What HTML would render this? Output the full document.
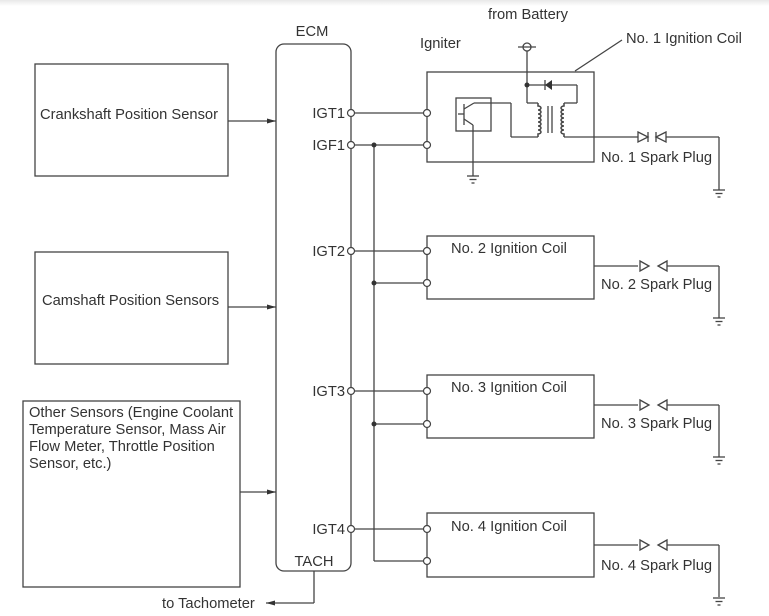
<!DOCTYPE html>
<html><head><meta charset="utf-8"><style>
html,body{margin:0;padding:0;background:#fff;}
svg{display:block;}
text{font-family:"Liberation Sans",Arial,sans-serif;font-size:14.7px;fill:#333;}
</style></head><body>
<svg width="769" height="616" viewBox="0 0 769 616" xmlns="http://www.w3.org/2000/svg">
<defs>
<linearGradient id="g" x1="0" y1="0" x2="0" y2="1"><stop offset="0" stop-color="#e8e8e8"/><stop offset="1" stop-color="#fff"/></linearGradient>
<marker id="a" markerWidth="10" markerHeight="8" refX="9" refY="4" orient="auto" markerUnits="userSpaceOnUse"><path d="M0,1.5 L9,4 L0,6.5z" fill="#333"/></marker>
</defs>
<rect x="0" y="0" width="769" height="6" fill="url(#g)"/>
<g stroke="#444" stroke-width="1.3" fill="none">
<rect x="35" y="64" width="193" height="112"/>
<rect x="35" y="252" width="193" height="112"/>
<rect x="23" y="401" width="217" height="186"/>
<line x1="228" y1="121" x2="276" y2="121" marker-end="url(#a)"/>
<line x1="228" y1="307" x2="276" y2="307" marker-end="url(#a)"/>
<line x1="240" y1="492" x2="276" y2="492" marker-end="url(#a)"/>
<rect x="276" y="44" width="75" height="527" rx="8"/>
<line x1="314" y1="571" x2="314" y2="603"/>
<line x1="314" y1="603" x2="266" y2="603" marker-end="url(#a)"/>
<line x1="374" y1="145" x2="374" y2="561"/>
<line x1="355" y1="113" x2="423" y2="113"/>
<line x1="355" y1="145" x2="423" y2="145"/>
<line x1="355" y1="251" x2="423" y2="251"/>
<line x1="374" y1="283" x2="423" y2="283"/>
<line x1="355" y1="391" x2="423" y2="391"/>
<line x1="374" y1="424" x2="423" y2="424"/>
<line x1="355" y1="529" x2="423" y2="529"/>
<line x1="374" y1="561" x2="423" y2="561"/>
<rect x="427" y="72" width="167" height="90"/>
<rect x="427" y="236" width="167" height="63"/>
<rect x="427" y="375" width="167" height="63"/>
<rect x="427" y="513" width="167" height="64"/>
<rect x="456" y="98" width="35" height="33"/>
<line x1="464" y1="104" x2="464" y2="125"/>
<line x1="458" y1="114" x2="464" y2="114"/>
<line x1="464" y1="109" x2="474" y2="103"/>
<line x1="474" y1="103" x2="511" y2="103"/>
<line x1="464" y1="119" x2="473" y2="125"/>
<line x1="473" y1="125" x2="473" y2="176"/>
<line x1="511" y1="103" x2="511" y2="137"/>
<line x1="511" y1="137" x2="538" y2="137"/>
<line x1="527" y1="51" x2="527" y2="103"/>
<line x1="527" y1="85" x2="577" y2="85"/>
<line x1="577" y1="85" x2="577" y2="103"/>
<line x1="577" y1="103" x2="564" y2="103"/>
<line x1="527" y1="103" x2="538" y2="103"/>
<path d="M538,103 v3 a3,2 0 1,1 0,4 a3,2 0 1,1 0,4 a3,2 0 1,1 0,4 a3,2 0 1,1 0,4 a3,2 0 1,1 0,4 a3,2 0 1,1 0,4 a3,2 0 1,1 0,4 v3" stroke-width="1.5"/>
<path d="M564,103 v3 a3,2 0 1,0 0,4 a3,2 0 1,0 0,4 a3,2 0 1,0 0,4 a3,2 0 1,0 0,4 a3,2 0 1,0 0,4 a3,2 0 1,0 0,4 a3,2 0 1,0 0,4 v3" stroke-width="1.5"/>
<line x1="548" y1="106" x2="548" y2="133"/>
<line x1="552" y1="106" x2="552" y2="133"/>
<line x1="564" y1="137" x2="638" y2="137"/>
<line x1="545" y1="80" x2="545" y2="90"/>
<circle cx="527" cy="47" r="4"/>
<line x1="518" y1="47" x2="536" y2="47"/>
<line x1="575" y1="71" x2="622" y2="40"/>
<path d="M638,132 L648,137 L638,142z"/>
<path d="M648,132 L648,142"/>
<path d="M666,132 L656,137 L666,142z"/>
<path d="M656,132 L656,142"/>
<line x1="666" y1="137" x2="719" y2="137"/>
<line x1="719" y1="137" x2="719" y2="190"/>
<g id="sp">
<line x1="594" y1="266" x2="638" y2="266"/>
<path d="M640,261 L649,266 L640,271z"/>
<path d="M667,261 L658,266 L667,271z"/>
<line x1="667" y1="266" x2="719" y2="266"/>
<line x1="719" y1="266" x2="719" y2="318"/>
</g>
<use href="#sp" y="139"/>
<use href="#sp" y="279"/>
<g id="gnd"><line x1="713" y1="190" x2="725" y2="190"/><line x1="715.5" y1="193.5" x2="722.5" y2="193.5"/><line x1="717.5" y1="197" x2="720.5" y2="197"/></g>
<use href="#gnd" y="128"/>
<use href="#gnd" y="267"/>
<use href="#gnd" y="408"/>
<use href="#gnd" x="-246" y="-14"/>
</g>
<path d="M552,80 L545,85 L552,90z" fill="#333"/>
<g fill="#333"><circle cx="527" cy="85" r="2.5"/><circle cx="374" cy="145" r="2.5"/><circle cx="374" cy="283" r="2.5"/><circle cx="374" cy="424" r="2.5"/></g>
<g fill="#fff" stroke="#444" stroke-width="1.2">
<circle cx="351" cy="113" r="3.5"/><circle cx="351" cy="145" r="3.5"/><circle cx="351" cy="251" r="3.5"/><circle cx="351" cy="391" r="3.5"/><circle cx="351" cy="529" r="3.5"/>
<circle cx="427" cy="113" r="3.5"/><circle cx="427" cy="145" r="3.5"/>
<circle cx="427" cy="251" r="3.5"/><circle cx="427" cy="283" r="3.5"/>
<circle cx="427" cy="391" r="3.5"/><circle cx="427" cy="424" r="3.5"/>
<circle cx="427" cy="529" r="3.5"/><circle cx="427" cy="561" r="3.5"/>
</g>
<text x="40" y="119">Crankshaft Position Sensor</text>
<text x="42" y="305">Camshaft Position Sensors</text>
<text x="29" y="417">Other Sensors (Engine Coolant</text>
<text x="29" y="434">Temperature Sensor, Mass Air</text>
<text x="29" y="451">Flow Meter, Throttle Position</text>
<text x="29" y="468">Sensor, etc.)</text>
<text x="312" y="36" text-anchor="middle">ECM</text>
<g text-anchor="end">
<text x="345" y="118">IGT1</text>
<text x="345" y="150">IGF1</text>
<text x="345" y="256">IGT2</text>
<text x="345" y="396">IGT3</text>
<text x="345" y="534">IGT4</text>
</g>
<text x="314" y="566" text-anchor="middle">TACH</text>
<text x="162" y="608">to Tachometer</text>
<text x="488" y="19">from Battery</text>
<text x="420" y="48">Igniter</text>
<text x="626" y="43">No. 1 Ignition Coil</text>
<text x="601" y="162">No. 1 Spark Plug</text>
<text x="451" y="253">No. 2 Ignition Coil</text>
<text x="601" y="289">No. 2 Spark Plug</text>
<text x="451" y="392">No. 3 Ignition Coil</text>
<text x="601" y="428">No. 3 Spark Plug</text>
<text x="451" y="531">No. 4 Ignition Coil</text>
<text x="601" y="570">No. 4 Spark Plug</text>
</svg>
</body></html>
